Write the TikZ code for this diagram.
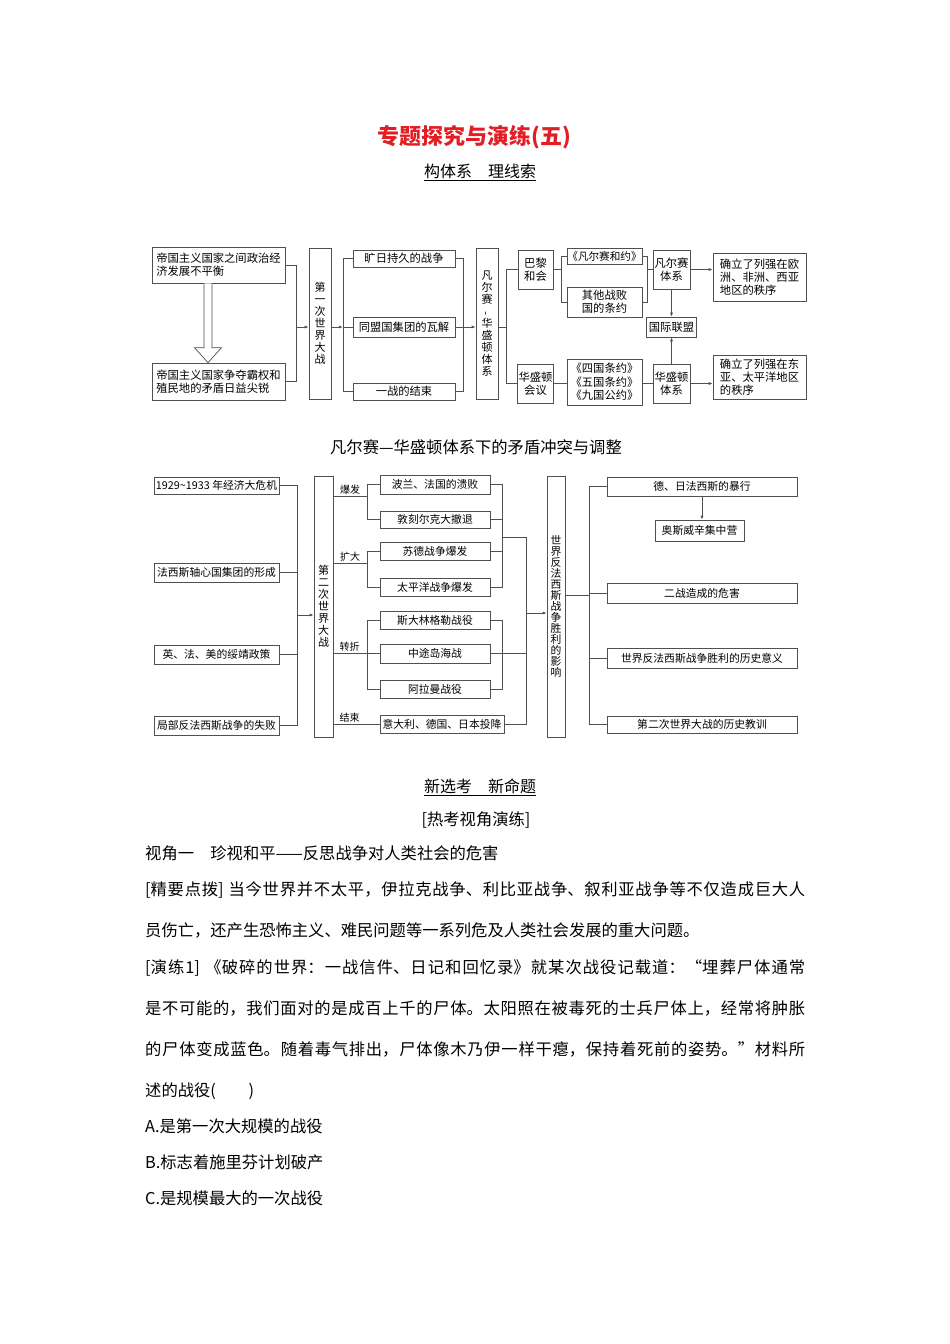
\documentclass[tikz,border=0pt]{standalone}
\usepackage{fontspec}
\setmainfont{Noto Sans CJK SC}
\usetikzlibrary{arrows.meta,positioning,calc}
\definecolor{ztrouge}{RGB}{226,30,36}
\definecolor{ztgris}{RGB}{80,80,80}
\XeTeXlinebreaklocale "zh"
\XeTeXlinebreakskip=0pt plus 1pt

\begin{document}
\begin{tikzpicture}[x=1pt, y=-1pt,
  box/.style={rectangle, draw=ztgris, line width=0.7pt, inner sep=1pt,
    align=center, font=\fontsize{11.3}{13.3}\selectfont},
  sbox/.style={box, font=\fontsize{10.8}{12.5}\selectfont},
  vbox/.style={box, inner sep=0pt, font=\fontsize{11}{12}\selectfont},
  lbl/.style={font=\fontsize{10}{11}\selectfont, inner sep=1.5pt},
  ln/.style={draw=ztgris, line width=0.7pt},
  arr/.style={ln, -{Latex[length=4pt,width=3pt]}},
  hollow/.style={draw=ztgris, line width=0.7pt, fill=white},
  body/.style={anchor=west, inner sep=0pt, font=\fontsize{16.3}{18}\selectfont},
  para/.style={anchor=base west, inner sep=0pt, text width=660, align=justify,
    font=\fontsize{16.3}{41}\selectfont}
]
  \useasboundingbox (0,0) rectangle (950,1344);

  % Headings
  \node[font=\bfseries\fontsize{22}{24}\selectfont, text=ztrouge] (titre) at (474,137) {专题探究与演练(五)};
  \node[font=\fontsize{16}{18}\selectfont] (sous1) at (480,172) {\underline{构体系\quad 理线索}};

  % First diagram
  \node[box, align=left, minimum width=133, minimum height=36] (impA) at (218.5,265) {帝国主义国家之间政治经\\济发展不平衡};
  \node[box, align=left, minimum width=133, minimum height=37] (impB) at (218.5,381.5) {帝国主义国家争夺霸权和\\殖民地的矛盾日益尖锐};
  \node[vbox, minimum width=22, minimum height=151] (ww1) at (320,323.5) {第\\一\\次\\世\\界\\大\\战};
  \node[box, minimum width=102, minimum height=17] (mid1) at (404,258.5) {旷日持久的战争};
  \node[box, minimum width=102, minimum height=20] (mid2) at (404,327) {同盟国集团的瓦解};
  \node[box, minimum width=102, minimum height=17] (mid3) at (404,391.5) {一战的结束};
  \node[vbox, minimum width=22, minimum height=151] (vw) at (487,323.5) {凡\\尔\\赛\\\rotatebox{90}{-}\\华\\盛\\顿\\体\\系};
  \node[box, minimum width=35, minimum height=39] (paris) at (535.5,269.5) {巴黎\\和会};
  \node[box, minimum width=35, minimum height=39] (wconf) at (535.5,383.5) {华盛顿\\会议};
  \node[box, inner xsep=0pt, minimum width=75, minimum height=16, font=\fontsize{10.6}{12}\selectfont] (vtreaty) at (604.5,256) {《凡尔赛和约》};
  \node[box, minimum width=75, minimum height=30] (other) at (604.5,302) {其他战败\\国的条约};
  \node[box, minimum width=75, minimum height=46] (treaties) at (604.5,382) {《四国条约》\\《五国条约》\\《九国公约》};
  \node[box, minimum width=37, minimum height=39] (versys) at (671.5,269.5) {凡尔赛\\体系};
  \node[box, minimum width=50, minimum height=20] (league) at (671.5,327) {国际联盟};
  \node[box, minimum width=37, minimum height=39] (wsys) at (671.5,383.5) {华盛顿\\体系};
  \node[box, align=left, minimum width=93, minimum height=48] (res1) at (759.5,277) {确立了列强在欧\\洲、非洲、西亚\\地区的秩序};
  \node[box, align=left, minimum width=93, minimum height=44] (res2) at (759.5,377) {确立了列强在东\\亚、太平洋地区\\的秩序};

  \coordinate (hA) at ($(impA.south)+(-10.5,0)$);
  \coordinate (hB) at ($(impB.north)+(-10.5,0)$);
  \draw[hollow] ($(hA)+(-4,0)$) -- ($(hB)+(-4,-15)$) -- ($(hB)+(-13.5,-15)$) -- (hB)
    -- ($(hB)+(13.5,-15)$) -- ($(hB)+(4,-15)$) -- ($(hA)+(4,0)$);

  \coordinate (j1) at (296,327);
  \draw[ln] (impA.east) -| (j1 |- impB.east) -- (impB.east);
  \draw[arr] (j1) -- (j1 -| ww1.west);
  \coordinate (j2) at (343,327);
  \draw[arr] (ww1.east |- j2) -- (j2);
  \draw[ln] (j2) -- (mid2.west);
  \draw[ln] (mid1.west) -| (j2 |- mid3.west) -- (mid3.west);
  \coordinate (j3) at (463,327);
  \draw[ln] (mid1.east) -| (j3 |- mid3.east) -- (mid3.east);
  \draw[ln] (mid2.east) -- (j3);
  \draw[arr] (j3) -- (j3 -| vw.west);
  \coordinate (j4) at (506,327);
  \draw[ln] (vw.east |- j4) -- (j4);
  \draw[ln] (paris.west) -| (j4 |- wconf.west) -- (wconf.west);
  \coordinate (j5) at (561,269.5);
  \draw[ln] (paris.east) -- (j5);
  \draw[ln] (vtreaty.west) -| (j5 |- other.west) -- (other.west);
  \coordinate (j6) at (647,269.5);
  \draw[ln] (vtreaty.east) -| (j6 |- other.east) -- (other.east);
  \draw[ln] (j6) -- (j6 -| versys.west);
  \draw[arr] (versys.east) -- (versys.east -| res1.west);
  \draw[arr] (versys.south) -- (league.north);
  \draw[ln] (wconf.east) -- (wconf.east -| treaties.west);
  \draw[ln] (treaties.east |- wsys.west) -- (wsys.west);
  \draw[arr] (wsys.north) -- (league.south);
  \draw[arr] (wsys.east) -- (wsys.east -| res2.west);

  \node[font=\fontsize{16.3}{18}\selectfont] (titre2) at (476,447) {凡尔赛—华盛顿体系下的矛盾冲突与调整};

  % Second diagram
  \node[sbox, minimum width=125, minimum height=17] (c1) at (216.5,485.5) {1929\textasciitilde1933 年经济大危机};
  \node[sbox, minimum width=125, minimum height=19] (c2) at (216.5,572.5) {法西斯轴心国集团的形成};
  \node[sbox, minimum width=125, minimum height=19] (c3) at (216.5,654.5) {英、法、美的绥靖政策};
  \node[sbox, minimum width=125, minimum height=19] (c4) at (216.5,725.5) {局部反法西斯战争的失败};
  \node[vbox, minimum width=19, minimum height=261] (ww2) at (323.5,606.5) {第\\二\\次\\世\\界\\大\\战};
  \node[sbox, minimum width=110, minimum height=19] (b1) at (435,484.5) {波兰、法国的溃败};
  \node[sbox, minimum width=110, minimum height=17] (b2) at (435,519.5) {敦刻尔克大撤退};
  \node[sbox, minimum width=110, minimum height=18] (b3) at (435,551) {苏德战争爆发};
  \node[sbox, minimum width=110, minimum height=18] (b4) at (435,587) {太平洋战争爆发};
  \node[sbox, minimum width=110, minimum height=18] (b5) at (435,620) {斯大林格勒战役};
  \node[sbox, minimum width=110, minimum height=19] (b6) at (435,653.5) {中途岛海战};
  \node[sbox, minimum width=110, minimum height=18] (b7) at (435,689) {阿拉曼战役};
  \node[sbox, minimum width=124, minimum height=18] (b8) at (442,724) {意大利、德国、日本投降};
  \node[vbox, minimum width=18, minimum height=261, font=\fontsize{10.8}{11}\selectfont] (impact) at (556,606.5) {世\\界\\反\\法\\西\\斯\\战\\争\\胜\\利\\的\\影\\响};
  \node[sbox, minimum width=190, minimum height=19] (e1) at (702,486.5) {德、日法西斯的暴行};
  \node[sbox, minimum width=89, minimum height=21] (ausch) at (699.5,530.5) {奥斯威辛集中营};
  \node[sbox, minimum width=190, minimum height=20] (e2) at (702,593) {二战造成的危害};
  \node[sbox, minimum width=190, minimum height=20] (e3) at (702,658) {世界反法西斯战争胜利的历史意义};
  \node[sbox, minimum width=190, minimum height=17] (e4) at (702,724.5) {第二次世界大战的历史教训};

  \coordinate (j7) at (297,615);
  \draw[ln] (c1.east) -| (j7 |- c4.east) -- (c4.east);
  \draw[ln] (c2.east) -- (c2.east -| j7);
  \draw[ln] (c3.east) -- (c3.east -| j7);
  \draw[arr] (j7) -- (j7 -| ww2.west);

  \coordinate (s1) at (367,496);
  \draw[ln] (ww2.east |- s1) -- node[lbl, above] {爆发} (s1);
  \draw[ln] (b1.west) -| (s1 |- b2.west) -- (b2.west);
  \coordinate (s2) at (367,563);
  \draw[ln] (ww2.east |- s2) -- node[lbl, above] {扩大} (s2);
  \draw[ln] (b3.west) -| (s2 |- b4.west) -- (b4.west);
  \coordinate (s3) at (367,654);
  \draw[ln] (ww2.east |- b6.west) -- node[lbl, above, pos=0.35] {转折} (b6.west);
  \draw[ln] (b5.west) -| (s3 |- b7.west) -- (b7.west);
  \draw[ln] (ww2.east |- b8.west) -- node[lbl, above, pos=0.35] {结束} (b8.west);

  \coordinate (r1) at (502,537);
  \coordinate (r2) at (526,537);
  \draw[ln] (b1.east) -| (r1 |- b4.east) -- (b4.east);
  \draw[ln] (b2.east) -- (b2.east -| r1);
  \draw[ln] (b3.east) -- (b3.east -| r1);
  \draw[ln] (r1) -- (r2) |- (b8.east);
  \draw[ln] (b5.east) -| (r1 |- b7.east) -- (b7.east);
  \draw[ln] (b6.east) -- (b6.east -| r2);
  \coordinate (r3) at (526,613);
  \draw[arr] (r3) -- (r3 -| impact.west);

  \coordinate (k1) at (589,595);
  \draw[ln] (impact.east |- k1) -- (k1);
  \draw[ln] (e1.west) -| (k1 |- e4.west) -- (e4.west);
  \draw[ln] (e2.west) -- (e2.west -| k1);
  \draw[ln] (e3.west) -- (e3.west -| k1);
  \draw[arr] (e1.south) -- (e1.south |- ausch.north);

  % Exercise text
  \node[font=\fontsize{16}{18}\selectfont] (sous2) at (480,787) {\underline{新选考\quad 新命题}};
  \node[font=\fontsize{16.3}{18}\selectfont] (sous3) at (476,820) {[热考视角演练]};
  \node[body] (p1) at (145,853) {视角一　珍视和平——反思战争对人类社会的危害};
  \node[para] (p2) at (145,895) {[精要点拨] 当今世界并不太平，伊拉克战争、利比亚战争、叙利亚战争等不仅造成巨大人\linebreak
    员伤亡，还产生恐怖主义、难民问题等一系列危及人类社会发展的重大问题。};
  \node[para] (p4) at (145,973) {[演练1] 《破碎的世界：一战信件、日记和回忆录》就某次战役记载道：“埋葬尸体通常\linebreak
    是不可能的，我们面对的是成百上千的尸体。太阳照在被毒死的士兵尸体上，经常将肿胀\linebreak
    的尸体变成蓝色。随着毒气排出，尸体像木乃伊一样干瘪，保持着死前的姿势。”材料所\linebreak
    述的战役(\quad\quad)};
  \node[body] (p8) at (145,1126) {A.是第一次大规模的战役};
  \node[body] (p9) at (145,1162) {B.标志着施里芬计划破产};
  \node[body] (p10) at (145,1198) {C.是规模最大的一次战役};
\end{tikzpicture}
\end{document}
